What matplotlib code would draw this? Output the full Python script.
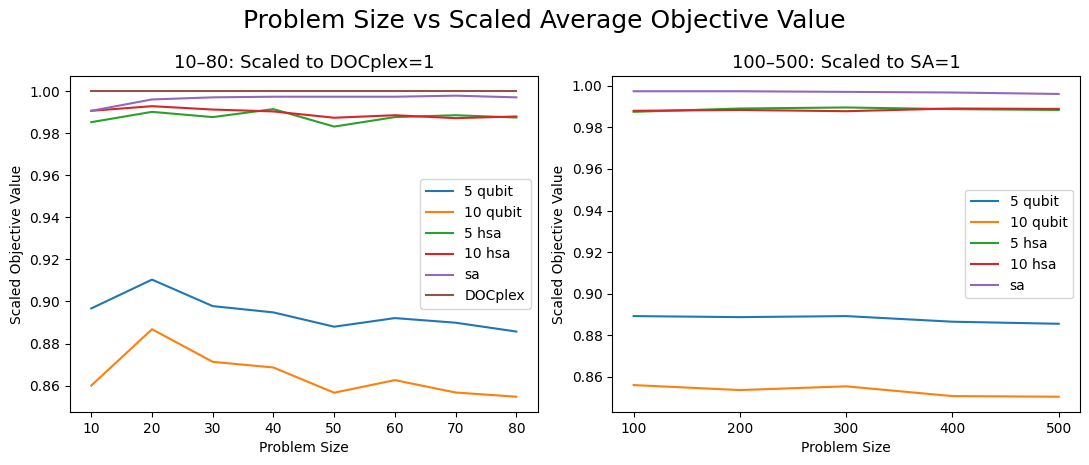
import matplotlib
matplotlib.use('Agg')
import matplotlib.pyplot as plt

# Left panel: sizes 10-80, scaled to DOCplex = 1
sizes_small = [10, 20, 30, 40, 50, 60, 70, 80]
small_5qubit = [0.8967, 0.9104, 0.8978, 0.8948, 0.8880, 0.8921, 0.8899, 0.8857]
small_10qubit = [0.8600, 0.8868, 0.8713, 0.8686, 0.8566, 0.8626, 0.8567, 0.8547]
small_5hsa = [0.9853, 0.9902, 0.9877, 0.9915, 0.9832, 0.9877, 0.9886, 0.9875]
small_10hsa = [0.9907, 0.9929, 0.9913, 0.9904, 0.9874, 0.9886, 0.9872, 0.9880]
small_sa = [0.9907, 0.9961, 0.9971, 0.9974, 0.9974, 0.9974, 0.9979, 0.9971]
small_docplex = [1.0, 1.0, 1.0, 1.0, 1.0, 1.0, 1.0, 1.0]

# Right panel: sizes 100-500, scaled to SA = 1
sizes_large = [100, 200, 300, 400, 500]
large_5qubit = [0.8892, 0.8887, 0.8892, 0.8865, 0.8855]
large_10qubit = [0.8560, 0.8536, 0.8554, 0.8507, 0.8504]
large_5hsa = [0.9875, 0.9891, 0.9896, 0.9888, 0.9884]
large_10hsa = [0.9880, 0.9884, 0.9878, 0.9891, 0.9889]
large_sa = [0.9974, 0.9974, 0.9971, 0.9968, 0.9961]

fig, (ax1, ax2) = plt.subplots(1, 2, figsize=(10.89, 4.65), dpi=100)

ax1.plot(sizes_small, small_5qubit, label='5 qubit')
ax1.plot(sizes_small, small_10qubit, label='10 qubit')
ax1.plot(sizes_small, small_5hsa, label='5 hsa')
ax1.plot(sizes_small, small_10hsa, label='10 hsa')
ax1.plot(sizes_small, small_sa, label='sa')
ax1.plot(sizes_small, small_docplex, label='DOCplex')
ax1.set_title('10\u201380: Scaled to DOCplex=1', fontsize=13)
ax1.set_xlabel('Problem Size')
ax1.set_ylabel('Scaled Objective Value')
ax1.legend(loc='center right')

ax2.plot(sizes_large, large_5qubit, label='5 qubit')
ax2.plot(sizes_large, large_10qubit, label='10 qubit')
ax2.plot(sizes_large, large_5hsa, label='5 hsa')
ax2.plot(sizes_large, large_10hsa, label='10 hsa')
ax2.plot(sizes_large, large_sa, label='sa')
ax2.set_xticks(sizes_large)
ax2.set_title('100\u2013500: Scaled to SA=1', fontsize=13)
ax2.set_xlabel('Problem Size')
ax2.set_ylabel('Scaled Objective Value')
ax2.legend(loc='center right')

fig.suptitle('Problem Size vs Scaled Average Objective Value', fontsize=18)
plt.subplots_adjust(left=0.0643, right=0.9917, top=0.8366, bottom=0.114, wspace=0.16)
plt.savefig('out.png')
